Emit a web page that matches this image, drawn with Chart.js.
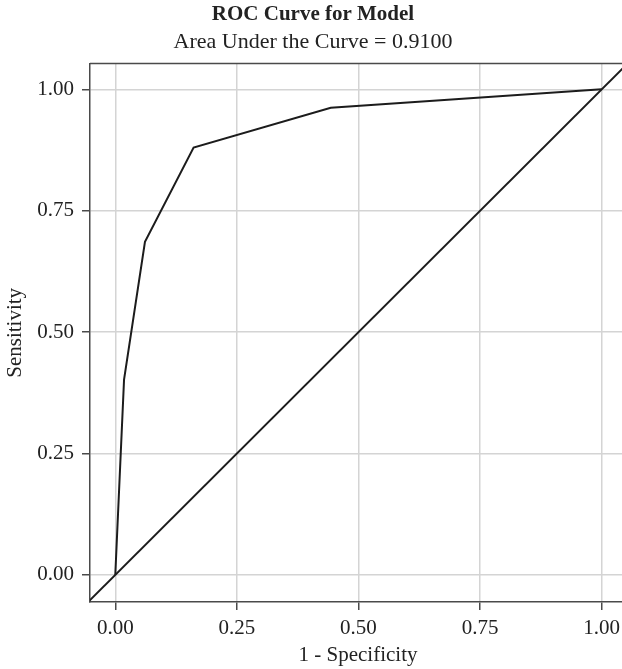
<!DOCTYPE html>
<html>
<head>
<meta charset="utf-8">
<script src="https://cdn.jsdelivr.net/npm/chart.js@4/dist/chart.umd.min.js"></script>
<style>
  html, body { margin: 0; padding: 0; background: #ffffff; overflow: hidden; }
  #wrap { width: 632px; height: 669px; }
</style>
</head>
<body>
<div id="wrap"><canvas id="roc" width="632" height="669"></canvas></div>
<script>
// ROC points
const fpr = [0, 0.018, 0.061, 0.161, 0.443, 1.0];       // 1 - specificity
const tpr = [0, 0.402, 0.686, 0.880, 0.962, 1.0];       // sensitivity
const chanceX = [-0.1, 1.1];                            // reference line y = x (clipped to panel)
const tickVals = [0, 0.25, 0.5, 0.75, 1];
const aucText = 'Area Under the Curve = 0.9100';

const serif = "'Liberation Serif', 'DejaVu Serif', serif";
const textCol = '#222222';
const frameCol = '#4a4a4a';
const gridCol = '#d4d4d4';

// draws the panel top edge (ggplot style frame)
const frame = {
    id: 'frame',
    afterDatasetsDraw(chart) {
        const a = chart.chartArea;
        const c = chart.ctx;
        c.save();
        c.strokeStyle = frameCol;
        c.lineWidth = 1.5;
        c.beginPath();
        c.moveTo(a.left, a.top);
        c.lineTo(a.right, a.top);
        c.lineTo(a.right, a.bottom);
        c.stroke();
        c.restore();
    }
};

const setTicks = scale => { scale.ticks = tickVals.map(v => ({ value: v })); };

new Chart(document.getElementById('roc'), {
    type: 'scatter',
    data: {
        datasets: [
            {
                data: fpr.map((x, i) => ({ x: x, y: tpr[i] })),
                showLine: true,
                borderColor: '#1c1c1c',
                borderWidth: 2,
                pointRadius: 0
            },
            {
                data: chanceX.map(v => ({ x: v, y: v })),
                showLine: true,
                borderColor: '#1c1c1c',
                borderWidth: 2,
                pointRadius: 0
            }
        ]
    },
    options: {
        responsive: false,
        animation: false,
        layout: { padding: { left: 0, right: 6, top: 0, bottom: 0 } },
        plugins: {
            legend: { display: false },
            tooltip: { enabled: false },
            title: {
                display: true,
                text: 'ROC Curve for Model',
                color: textCol,
                font: { family: serif, size: 21, weight: 'bold' },
                padding: { top: 2, bottom: 1.5 }
            },
            subtitle: {
                display: true,
                text: aucText,
                color: textCol,
                font: { family: serif, size: 22 },
                padding: { top: 0, bottom: 8.5 }
            }
        },
        scales: {
            x: {
                type: 'linear',
                min: -0.052,
                max: 1.05,
                afterBuildTicks: setTicks,
                afterFit: s => { s.height = 67; },
                grid: { color: gridCol, lineWidth: 1.5, tickColor: frameCol, tickLength: 8 },
                border: { color: frameCol, width: 1.5 },
                ticks: {
                    color: textCol,
                    font: { family: serif, size: 21 },
                    padding: 6,
                    maxRotation: 0,
                    callback: v => v.toFixed(2)
                },
                title: {
                    display: true,
                    text: '1 - Specificity',
                    color: textCol,
                    font: { family: serif, size: 21 },
                    padding: { top: 2, bottom: 1 }
                }
            },
            y: {
                type: 'linear',
                min: -0.056,
                max: 1.053,
                afterBuildTicks: setTicks,
                afterFit: s => { s.width = 90; },
                grid: { color: gridCol, lineWidth: 1.5, tickColor: frameCol, tickLength: 8 },
                border: { color: frameCol, width: 1.5 },
                ticks: {
                    color: textCol,
                    font: { family: serif, size: 21 },
                    padding: 8,
                    callback: v => v.toFixed(2)
                },
                title: {
                    display: true,
                    text: 'Sensitivity',
                    color: textCol,
                    font: { family: serif, size: 21 },
                    padding: { top: 3, bottom: 6 }
                }
            }
        }
    },
    plugins: [frame]
});
</script>
</body>
</html>
